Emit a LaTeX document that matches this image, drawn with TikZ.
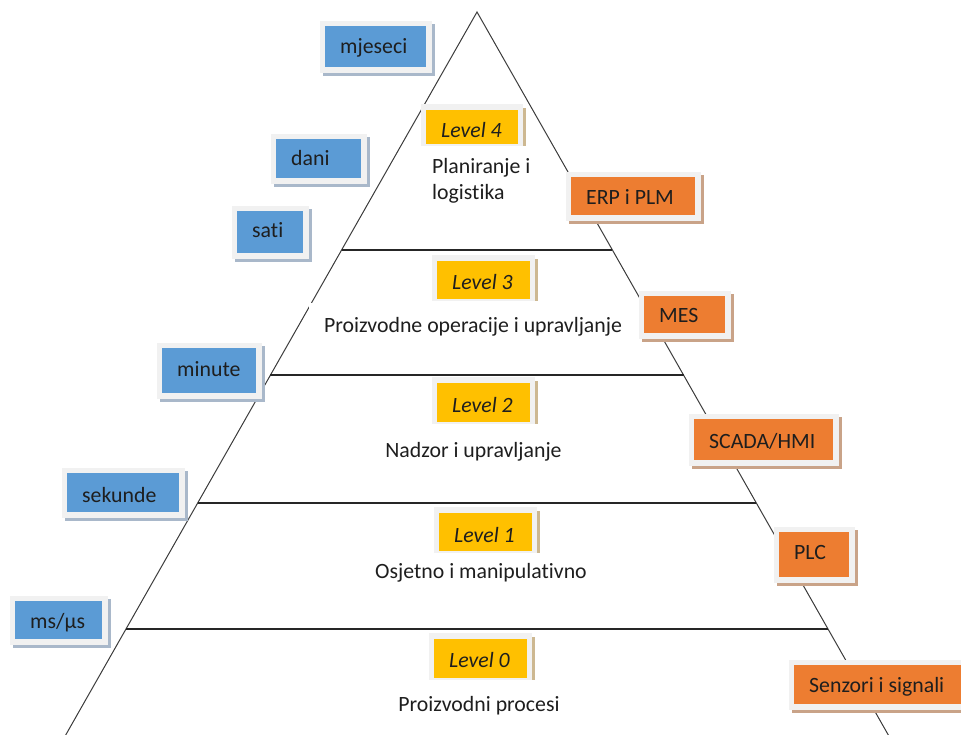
\documentclass[tikz,border=0pt]{standalone}
\usepackage{fontspec}
\setmainfont{Carlito}[Ligatures={NoCommon,NoRare,NoContextual}]
\usetikzlibrary{calc,fit}
\definecolor{boxblue}{HTML}{5B9BD5}
\definecolor{boxorange}{HTML}{ED7D31}
\definecolor{boxyellow}{HTML}{FFC000}
\definecolor{framegray}{HTML}{F1F1F1}
\definecolor{blueshadow}{HTML}{A9B8CA}
\definecolor{orangeshadow}{HTML}{C9A388}
\definecolor{yellowshadow}{HTML}{CDB891}
\definecolor{edgegray}{HTML}{3C3C3C}
\definecolor{inkcol}{HTML}{1E1E1E}

\tikzset{
  edge/.style={draw=edgegray, line width=1pt},
  tier/.style={draw=black!85, line width=1.2pt},
  swatch/.style={inner sep=0pt, outer sep=0pt, draw=none},
  lbl/.style={anchor=base west, inner sep=0pt, text=inkcol, font=\fontsize{21.8}{26.6}\selectfont},
  lvl/.style={anchor=base west, inner sep=0pt, text=inkcol, font=\fontsize{21.8}{26.6}\selectfont\itshape},
  desc/.style={anchor=base, inner sep=0pt, text=inkcol, font=\fontsize{21.8}{26.6}\selectfont},
}

% name, x1, y1, x2, y2, fill, shadow, baseline, text
\newcommand\tagbox[9]{%
  \fill[#7] (#2-2,#3-2) rectangle (#4+9,#5+9);
  \fill[framegray] (#2-5,#3-5) rectangle (#4+6,#5+6);
  \node[swatch, fill=#6, fit={(#2,#3)(#4,#5)}] (#1) {};
  \node[lbl] (#1-text) at (#2+15,#8) {#9};
}
% name, x1, y1, x2, y2, baseline, text
\newcommand\levelbox[7]{%
  \fill[framegray] (#2-5,#3-6) rectangle (#4+5,#5+2);
  \fill[yellowshadow] (#4+5,#3-2) rectangle (#4+8,#5+2);
  \node[swatch, fill=boxyellow, fit={(#2,#3)(#4,#5)}] (#1) {};
  \node[lvl] (#1-text) at (#2+15,#6) {#7};
}

\begin{document}
\begin{tikzpicture}[x=1pt,y=-1pt]
\useasboundingbox (0,0) rectangle (961,735);
\clip (0,0) rectangle (961,735);

% pyramid
\coordinate (apex) at (477,12);
\coordinate (bl) at (60,745);
\coordinate (br) at (894,745);
\draw[edge] (bl) -- (apex) -- (br);

\coordinate (l4) at ($(apex)!{238/733}!(bl)$);
\coordinate (r4) at ($(apex)!{238/733}!(br)$);
\coordinate (l3) at ($(apex)!{363/733}!(bl)$);
\coordinate (r3) at ($(apex)!{363/733}!(br)$);
\coordinate (l2) at ($(apex)!{491/733}!(bl)$);
\coordinate (r2) at ($(apex)!{491/733}!(br)$);
\coordinate (l1) at ($(apex)!{617/733}!(bl)$);
\coordinate (r1) at ($(apex)!{617/733}!(br)$);
\draw[tier] (l4) -- (r4);
\draw[tier] (l3) -- (r3);
\draw[tier] (l2) -- (r2);
\draw[tier] (l1) -- (r1);

% white text area of level 3
\fill[white] (309,303) rectangle (632,345);

% time scale (blue)
\tagbox{mjeseci}{325}{26}{426}{67}{boxblue}{blueshadow}{54}{mjeseci}
\tagbox{dani}{276}{139}{361}{178}{boxblue}{blueshadow}{166}{dani}
\tagbox{sati}{237}{211}{303}{253}{boxblue}{blueshadow}{238}{sati}
\tagbox{minute}{162}{348}{256}{393}{boxblue}{blueshadow}{376}{minute}
\tagbox{sekunde}{67}{473}{179}{512}{boxblue}{blueshadow}{502}{sekunde}
\tagbox{msus}{15}{601}{102}{639}{boxblue}{blueshadow}{628}{ms/µs}

% systems (orange)
\tagbox{erp}{571}{177}{695}{215}{boxorange}{orangeshadow}{205}{ERP i PLM}
\tagbox{mes}{644}{296}{725}{333}{boxorange}{orangeshadow}{323}{MES}
\tagbox{scada}{694}{419}{833}{460}{boxorange}{orangeshadow}{448}{SCADA/HMI}
\tagbox{plc}{779}{532}{849}{577}{boxorange}{orangeshadow}{559}{PLC}
\tagbox{senz}{794}{665}{975}{704}{boxorange}{orangeshadow}{692}{Senzori i signali}

% levels (yellow)
\levelbox{lv4}{426}{110}{518}{144}{138}{Level 4}
\levelbox{lv3}{437}{261}{530}{299}{290}{Level 3}
\levelbox{lv2}{437}{383}{530}{422}{412}{Level 2}
\levelbox{lv1}{439}{513}{532}{551}{542}{Level 1}
\levelbox{lv0}{434}{639}{527}{678}{667}{Level 0}

% descriptions
\node[lbl] (d4a) at (432,174) {Planiranje i};
\node[lbl] (d4b) at (432,200) {logistika};
\node[desc] (d3) at (473,332) {Proizvodne operacije i upravljanje};
\node[desc] (d2) at (473.5,457) {Nadzor i upravljanje};
\node[desc] (d1) at (481,578) {Osjetno i manipulativno};
\node[desc] (d0) at (479,711) {Proizvodni procesi};
\end{tikzpicture}
\end{document}
